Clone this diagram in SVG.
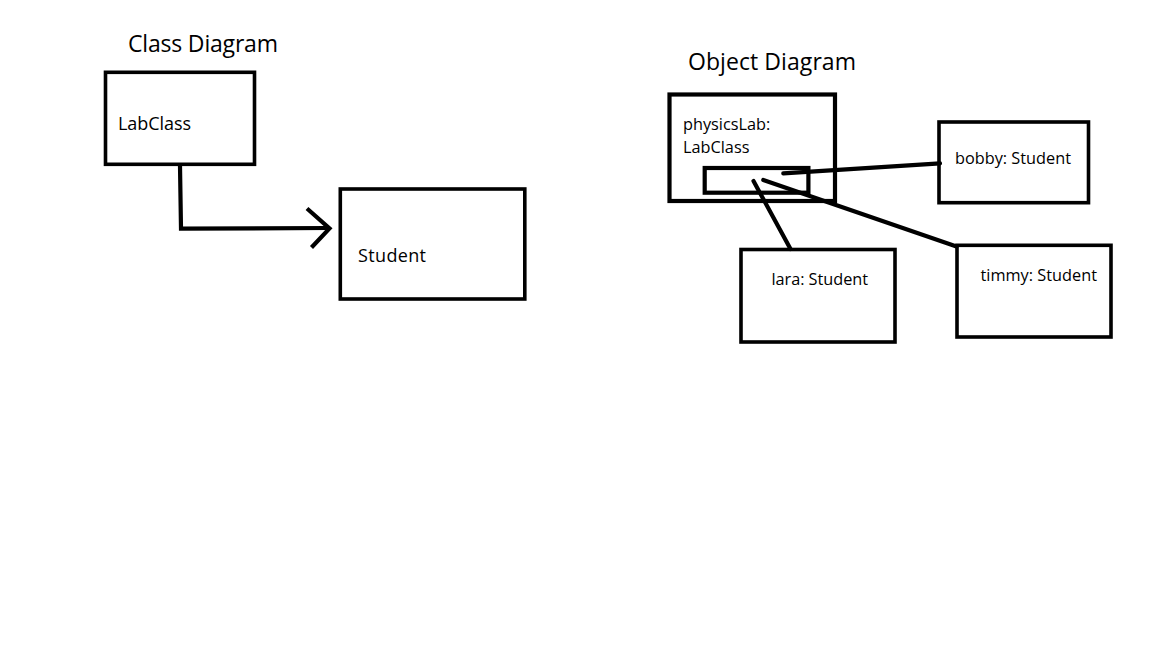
<svg xmlns="http://www.w3.org/2000/svg" width="1152" height="648" viewBox="0 0 1152 648">
<style>
.box{fill:none;stroke:#000;stroke-width:3.6}
.ln{fill:none;stroke:#000;stroke-width:4.2;stroke-linecap:round;stroke-linejoin:miter}
.t{font-family:"Open Sans","Noto Sans",sans-serif;fill:#000}
.title{font-size:23px}
.lbl{font-size:16.3px}
.cls{font-size:18px}
</style>
<rect width="1152" height="648" fill="#fff"/>
<text class="t title" x="128" y="52" textLength="150">Class Diagram</text>
<text class="t title" x="688" y="70" textLength="168">Object Diagram</text>
<g id="labclass">
<rect class="box" x="105.5" y="72.3" width="149" height="92"/>
<text class="t cls" x="118" y="129.5" textLength="73">LabClass</text>
</g>
<g id="student">
<rect class="box" x="340.3" y="189" width="184.5" height="110"/>
<text class="t cls" x="358" y="261.5" textLength="68">Student</text>
</g>
<g id="physicsLab">
<rect class="box" x="669.5" y="94.5" width="165.5" height="106.5" style="stroke-width:4.2"/>
<text class="t lbl" x="683" y="130">physicsLab:</text>
<text class="t lbl" x="683" y="152.5">LabClass</text>
<rect class="box" x="704.7" y="168" width="103.7" height="24.7" style="stroke-width:4.2"/>
</g>
<g id="bobby">
<rect class="box" x="939" y="122" width="149.5" height="80.7"/>
<text class="t lbl" x="955" y="164" textLength="116">bobby: Student</text>
</g>
<g id="lara">
<rect class="box" x="741" y="249.5" width="154" height="92.5"/>
<text class="t lbl" x="771.5" y="285" textLength="96.5">lara: Student</text>
</g>
<g id="timmy">
<rect class="box" x="957" y="245.3" width="154" height="91.7"/>
<text class="t lbl" x="980.5" y="280.5" textLength="116.5">timmy: Student</text>
</g>
<g id="connectors">
<polyline class="ln" points="180,166 181,228.7 330,228" style="stroke-linecap:butt"/>
<polyline class="ln" points="307,208.5 329.5,228.5 311.5,247.5" style="stroke-linecap:butt"/>
<line class="ln" x1="783.3" y1="173.3" x2="940" y2="163.3"/>
<line class="ln" x1="753.5" y1="181" x2="790.5" y2="249"/>
<line class="ln" x1="763.3" y1="180" x2="956.5" y2="246.5"/>
</g>
</svg>
